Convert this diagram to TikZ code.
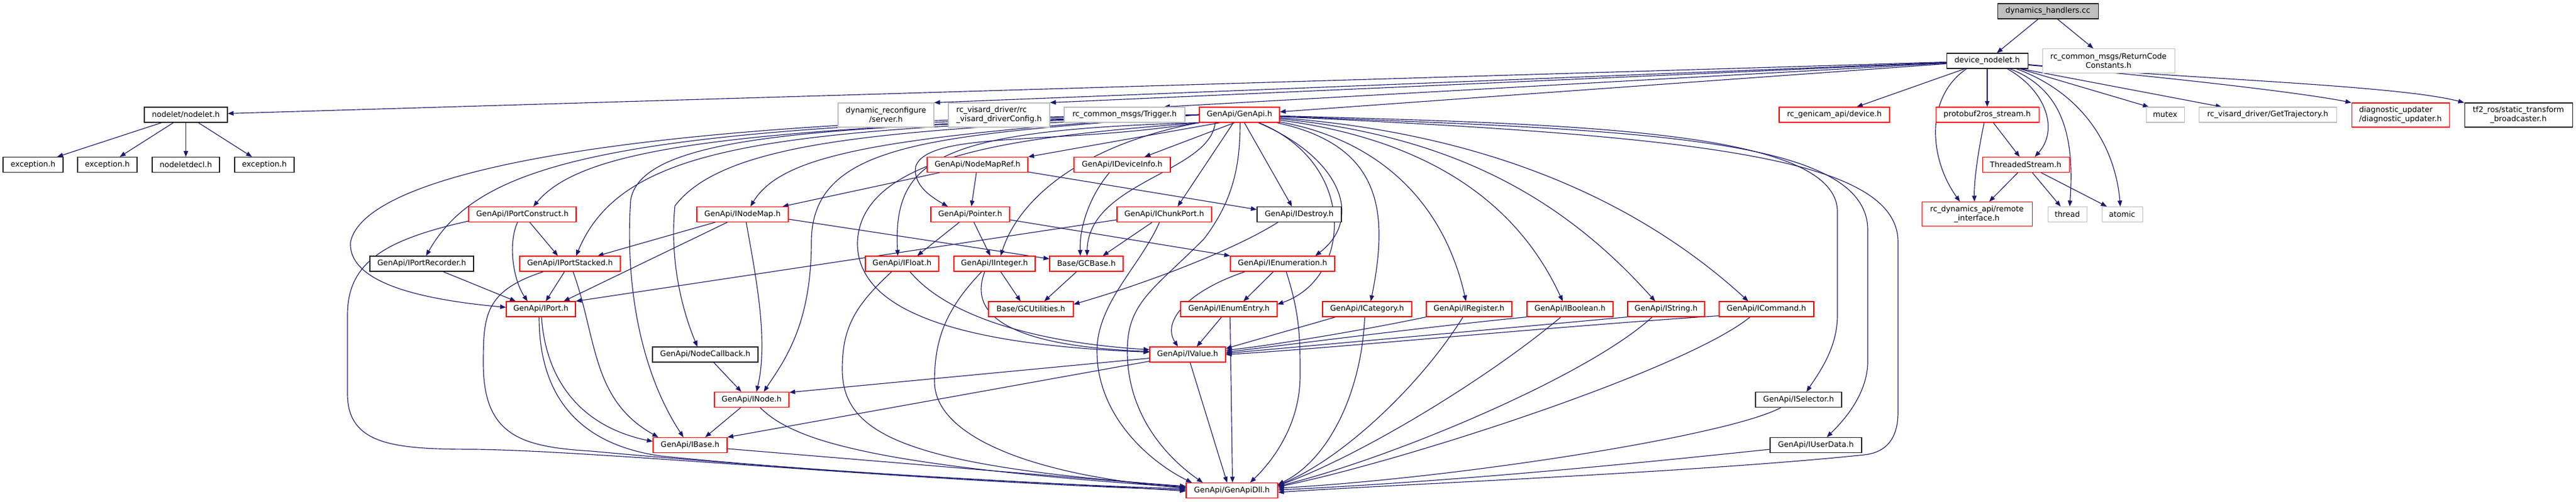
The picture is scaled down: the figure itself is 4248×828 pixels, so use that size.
\documentclass[tikz,border=0pt]{standalone}
\usepackage{fontspec}
\setmainfont{DejaVu Sans}
\usetikzlibrary{arrows.meta,calc}
\definecolor{edgec}{HTML}{191970}
\definecolor{redb}{HTML}{FF0000}
\definecolor{grayb}{HTML}{BFBFBF}
\definecolor{rootfill}{HTML}{BFBFBF}
\definecolor{blackb}{HTML}{202020}
\pgfdeclarelayer{bg}
\pgfsetlayers{bg,main}
\begin{document}
\begin{tikzpicture}[x=0.02cm,y=-0.02cm,
  box/.style={rectangle,draw,fill=white,line width=0.62pt,inner xsep=1pt,inner ysep=1pt,
    minimum height=0.5cm,align=center,font=\fontsize{7.2}{8.6}\selectfont},
  rb/.style={box,draw=redb},
  gb/.style={box,draw=grayb},
  bb/.style={box,draw=blackb},
  w/.style={minimum width=#1*0.02cm},
  h2/.style={minimum height=0.8cm},
  e/.style={draw=edgec,line width=0.65pt,-{Triangle[length=5.5pt,width=4.2pt]}}]
\begin{pgfonlayer}{bg}
\fill[white] (0,0) rectangle (4248,828);
\end{pgfonlayer}
\useasboundingbox (0,0) rectangle (4248,828);
% row 0-2
\node[bb,w=166,fill=rootfill] (dh) at (3377,18.5) {dynamics\_handlers.cc};
\node[bb,w=134] (dn) at (3277,100.5) {device\_nodelet.h};
\node[gb,w=218,h2] (rcret) at (3477,100.5) {rc\_common\_msgs/ReturnCode\\Constants.h};
\node[bb,w=137] (nodelet) at (306.5,189.5) {nodelet/nodelet.h};
\node[gb,w=158,h2] (dynrec) at (1461,190) {dynamic\_reconfigure\\/server.h};
\node[gb,w=167,h2,align=left] (rcvcfg) at (1647.5,190) {rc\_visard\_driver/rc\\\_visard\_driverConfig.h};
\node[gb,w=199] (trigger) at (1854.5,189.5) {rc\_common\_msgs/Trigger.h};
\node[rb,w=132] (genapi) at (2044,189.5) {GenApi/GenApi.h};
\node[rb,w=182] (rcdev) at (3025,189.5) {rc\_genicam\_api/device.h};
\node[rb,w=170] (proto) at (3277,189.5) {protobuf2ros\_stream.h};
\node[gb,w=63] (mutex) at (3570.5,189.5) {mutex};
\node[gb,w=227] (gettraj) at (3739.5,189.5) {rc\_visard\_driver/GetTrajectory.h};
\node[rb,w=161,h2,align=left] (diag) at (3958.5,190) {diagnostic\_updater\\/diagnostic\_updater.h};
\node[bb,w=178,h2] (tf2) at (4153,190) {tf2\_ros/static\_transform\\\_broadcaster.h};
% row 3
\node[bb,w=99] (exc1) at (54.5,272) {exception.h};
\node[bb,w=98] (exc2) at (177,272) {exception.h};
\node[bb,w=111] (decl) at (306.5,272) {nodeletdecl.h};
\node[bb,w=98] (exc3) at (436,272) {exception.h};
\node[rb,w=166] (nmref) at (1612,272) {GenApi/NodeMapRef.h};
\node[rb,w=159] (devinfo) at (1850.5,272) {GenApi/IDeviceInfo.h};
\node[rb,w=143] (tstream) at (3340.5,272) {ThreadedStream.h};
% row 4
\node[rb,w=177] (portc) at (861.5,354) {GenApi/IPortConstruct.h};
\node[rb,w=151] (inodemap) at (1224.5,354) {GenApi/INodeMap.h};
\node[rb,w=130] (pointer) at (1600,354) {GenApi/Pointer.h};
\node[rb,w=156] (chunk) at (1920,354) {GenApi/IChunkPort.h};
\node[bb,w=139] (destroy) at (2142.5,354) {GenApi/IDestroy.h};
\node[rb,w=182,h2] (remote) at (3260,353.5) {rc\_dynamics\_api/remote\\\_interface.h};
\node[gb,w=64] (thread) at (3409,354) {thread};
\node[gb,w=67] (atomic) at (3499.5,354) {atomic};
% row 5
\node[bb,w=171] (portrec) at (695.5,435.5) {GenApi/IPortRecorder.h};
\node[rb,w=166] (portst) at (940,435.5) {GenApi/IPortStacked.h};
\node[rb,w=121] (float) at (1487.5,435.5) {GenApi/IFloat.h};
\node[rb,w=134] (integer) at (1640,435.5) {GenApi/IInteger.h};
\node[rb,w=121] (gcbase) at (1791.5,435.5) {Base/GCBase.h};
\node[rb,w=172] (enum) at (2115,435.5) {GenApi/IEnumeration.h};
% row 6
\node[rb,w=114] (port) at (892,510.5) {GenApi/IPort.h};
\node[rb,w=140] (gcutil) at (1700,510.5) {Base/GCUtilities.h};
\node[rb,w=159] (enumentry) at (2026.5,510.5) {GenApi/IEnumEntry.h};
\node[rb,w=147] (category) at (2254.5,510.5) {GenApi/ICategory.h};
\node[rb,w=141] (register) at (2422.5,510.5) {GenApi/IRegister.h};
\node[rb,w=142] (boolean) at (2589,510.5) {GenApi/IBoolean.h};
\node[rb,w=127] (string) at (2747.5,510.5) {GenApi/IString.h};
\node[rb,w=156] (command) at (2913,510.5) {GenApi/ICommand.h};
% rows 7-10
\node[bb,w=174] (nodecb) at (1163,585.5) {GenApi/NodeCallback.h};
\node[rb,w=125] (value) at (1958.5,585.5) {GenApi/IValue.h};
\node[rb,w=123] (inode) at (1239.5,660) {GenApi/INode.h};
\node[bb,w=142] (selector) at (2966,660) {GenApi/ISelector.h};
\node[rb,w=122] (ibase) at (1138,735) {GenApi/IBase.h};
\node[bb,w=151] (userdata) at (2994.5,735) {GenApi/IUserData.h};
\node[rb,w=151] (dll) at (2031.5,810) {GenApi/GenApiDll.h};

\begin{pgfonlayer}{bg}
% top
\draw[e] (dh) -- (dn);
\draw[e] (dh) -- (rcret);
\draw[e] (dn) -- (nodelet);
\draw[e] (dn) -- (dynrec.north east);
\draw[e] (dn) -- (rcvcfg.north east);
\draw[e] (dn) -- ($(trigger.north)+(65,0)$);
\draw[e] (dn) -- (genapi);
\draw[e] (dn) -- (rcdev);
\draw[e] (dn) -- (proto);
\draw[e] ($(dn.south)+(-34,0)$) .. controls (3175,160) and (3180,260) .. ($(remote.north)+(-28,0)$);
\draw[e] ($(dn.south)+(33,0)$) .. controls (3375,150) and (3395,215) .. ($(tstream.north)+(15,0)$);
\draw[e] ($(dn.south)+(37,0)$) .. controls (3410,150) and (3420,240) .. ($(thread.north)+(4,0)$);
\draw[e] ($(dn.south)+(48,0)$) .. controls (3450,160) and (3490,260) .. ($(atomic.north)+(-3,0)$);
\draw[e] ($(dn.south east)+(-14,0)$) -- ($(mutex.north west)+(5,0)$);
\draw[e] ($(dn.south east)+(-12,0)$) -- ($(gettraj.north)+(-76,0)$);
\draw[e] ($(dn.east)+(0,7)$) .. controls (3500,120) and (3780,150) .. (diag.north west);
\draw[e] ($(dn.east)+(0,6)$) .. controls (3600,130) and (3950,140) .. (tf2.north west);
% nodelet
\foreach \t in {exc1,exc2,decl,exc3} \draw[e] (nodelet) -- (\t);
% proto / threaded stream
\draw[e] (proto) -- (tstream);
\draw[e] ($(proto.south)+(-5,0)$) .. controls (3262,250) and (3255,300) .. ($(remote.north)+(-4,0)$);
\draw[e] (tstream) -- (remote);
\draw[e] (tstream) -- (thread);
\draw[e] (tstream) -- (atomic);
% GenApi.h
\draw[e] ($(genapi.south west)+(35,0)$) -- (nmref.north east);
\draw[e] ($(genapi.south)+(-8,0)$) -- ($(devinfo.north)+(37,0)$);
\draw[e] ($(genapi.south)+(-10,0)$) -- ($(chunk.north)+(22,0)$);
\draw[e] ($(genapi.south)+(8,0)$) -- ($(destroy.north)+(-12,0)$);
\draw[e] (genapi.south west) .. controls (1750,240) and (1530,215) .. (1510,275) .. controls (1505,305) and (1535,325) .. ($(pointer.north)+(-37,0)$);
\draw[e] (genapi.south west) .. controls (1550,215) and (1472,260) .. ($(float.north)+(-7,0)$);
\draw[e] (genapi.south west) .. controls (1780,240) and (1680,330) .. ($(integer.north)+(10,0)$);
\draw[e] ($(genapi.south)+(-40,0)$) .. controls (1995,285) and (1795,300) .. ($(gcbase.north)+(1,0)$);
\draw[e] (genapi.south west) .. controls (1700,225) and (1420,250) .. (1414,400) .. controls (1412,520) and (1600,570) .. ($(value.west)+(0,-4)$);
\draw[e] (genapi.west) .. controls (1550,225) and (1338,230) .. (1338,400) .. controls (1338,540) and (1290,600) .. ($(inode.north)+(20,0)$);
\draw[e] (genapi.west) .. controls (1500,215) and (1200,225) .. (1113,340) .. controls (1105,420) and (1120,500) .. ($(nodecb.north)+(-13,0)$);
\draw[e] (genapi.west) .. controls (1400,210) and (1060,215) .. (1040,330) .. controls (1030,480) and (1060,620) .. ($(ibase.north)+(-11,0)$);
\draw[e] (genapi.west) .. controls (1450,225) and (1290,255) .. ($(inodemap.north)+(13,0)$);
\draw[e] (genapi.west) .. controls (1200,210) and (960,245) .. ($(portc.north)+(18,0)$);
\draw[e] (genapi.west) .. controls (1300,215) and (1030,230) .. ($(portst.north)+(10,0)$);
\draw[e] (genapi.west) .. controls (1000,205) and (790,270) .. ($(portrec.north)+(7,0)$);
\draw[e] (genapi.west) .. controls (1000,195) and (600,290) .. (578,400) .. controls (575,450) and (640,490) .. ($(port.west)+(0,-3)$);
\draw[e] (genapi) .. controls (2210,260) and (2250,360) .. ($(enum.north)+(54,0)$);
\draw[e] (genapi) .. controls (2240,270) and (2230,460) .. ($(enumentry.east)+(0,-8)$);
\draw[e] (genapi) .. controls (2280,240) and (2290,350) .. ($(category.north)+(6,0)$);
\draw[e] (genapi) .. controls (2270,230) and (2380,330) .. ($(register.north)+(-5,0)$);
\draw[e] (genapi) .. controls (2350,230) and (2500,330) .. ($(boolean.north)+(-12,0)$);
\draw[e] (genapi) .. controls (2400,225) and (2580,330) .. ($(string.north)+(-18,0)$);
\draw[e] (genapi) .. controls (2450,220) and (2700,330) .. ($(command.north)+(-30,0)$);
\draw[e] (genapi) .. controls (2600,205) and (3030,215) .. (3030,350) -- (3030,520) .. controls (3030,575) and (3000,615) .. ($(selector.north)+(13,0)$);
\draw[e] (genapi) .. controls (2700,215) and (3080,225) .. (3080,380) -- (3080,600) .. controls (3078,650) and (3045,690) .. ($(userdata.north)+(18,0)$);
\draw[e] (genapi) .. controls (2800,225) and (3130,260) .. (3130,400) -- (3130,680) .. controls (3130,735) and (3100,748) .. (3075,751) .. controls (2800,780) and (2300,800) .. ($(dll.east)+(0,3)$);
\draw[e] ($(genapi.south)+(1,0)$) .. controls (2045,270) and (2035,330) .. (1985,395) .. controls (1900,480) and (1859,500) .. (1859,580) .. controls (1859,690) and (1930,760) .. ($(dll.north)+(-48,0)$);
% NodeMapRef, IDeviceInfo, INodeMap
\draw[e] ($(nmref.south west)+(21,0)$) -- ($(inodemap.north east)+(-10,0)$);
\draw[e] (nmref) -- (pointer);
\draw[e] ($(nmref.east)+(0,12)$) -- ($(destroy.west)+(0,-8)$);
\draw[e] ($(devinfo.south)+(-21,0)$) .. controls (1800,320) and (1780,370) .. ($(gcbase.north)+(-10,0)$);
\draw[e] ($(inodemap.east)+(0,8)$) -- ($(gcbase.west)+(0,-8)$);
\draw[e] ($(inodemap.south west)+(31,0)$) -- ($(portst.north east)+(-38,0)$);
\draw[e] ($(inodemap.south west)+(51,0)$) -- ($(port.north east)+(-20,0)$);
\draw[e] ($(inodemap.south)+(6,0)$) .. controls (1245,450) and (1268,560) .. ($(inode.north)+(8,0)$);
% Pointer, IChunkPort, IDestroy
\draw[e] ($(pointer.south)+(-18,0)$) -- ($(float.north)+(25,0)$);
\draw[e] ($(pointer.south)+(6,0)$) -- ($(integer.north)+(-7,0)$);
\draw[e] ($(pointer.east)+(0,9)$) -- (enum.north west);
\draw[e] ($(chunk.west)+(0,9)$) -- (port.north east);
\draw[e] ($(chunk.south)+(-20,0)$) -- ($(gcbase.north)+(27,0)$);
\draw[e] ($(chunk.south)+(-8,0)$) .. controls (1880,440) and (1809,500) .. (1809,580) .. controls (1809,690) and (1900,765) .. ($(dll.north)+(-66,0)$);
\draw[e] ($(destroy.south west)+(35,0)$) .. controls (2040,410) and (1900,465) .. ($(gcutil.east)+(0,-8)$);
% IPortConstruct, IPortRecorder, IPortStacked, IPort
\draw[e] ($(portc.south)+(-8,0)$) .. controls (838,400) and (845,460) .. ($(port.north)+(-22,0)$);
\draw[e] ($(portc.south)+(12,0)$) -- ($(portst.north)+(-20,0)$);
\draw[e] ($(portc.south west)+(0,-2)$) .. controls (640,395) and (573,430) .. (573,520) -- (573,650) .. controls (573,735) and (650,742) .. (783,742) .. controls (1000,745) and (1500,795) .. ($(dll.west)+(0,-1)$);
\draw[e] ($(portrec.south)+(35,0)$) -- ($(port.north west)+(16,0)$);
\draw[e] ($(portst.south)+(-9,0)$) -- ($(port.north)+(8,0)$);
\draw[e] ($(portst.south)+(5,0)$) .. controls (985,560) and (975,660) .. ($(ibase.north west)+(9,0)$);
\draw[e] ($(portst.south west)+(40,0)$) .. controls (800,480) and (797,520) .. (797,600) .. controls (797,720) and (860,738) .. (975,745) .. controls (1300,775) and (1700,800) .. ($(dll.west)+(0,-3)$);
\draw[e] ($(port.south)+(1,0)$) .. controls (900,630) and (960,705) .. ($(ibase.west)+(0,-6)$);
\draw[e] ($(port.south)+(-3,0)$) .. controls (889,660) and (960,735) .. (1090,753) .. controls (1400,785) and (1800,800) .. ($(dll.west)+(0,1)$);
% NodeCallback, INode, IBase
\draw[e] ($(nodecb.south)+(14,0)$) -- ($(inode.north)+(-17,0)$);
\draw[e] ($(inode.south)+(-18,0)$) -- ($(ibase.north)+(25,0)$);
\draw[e] ($(inode.south)+(14,0)$) .. controls (1310,730) and (1450,770) .. ($(dll.west)+(0,-5)$);
\draw[e] ($(ibase.east)+(0,6)$) -- ($(dll.west)+(0,-6)$);
% IFloat, IInteger, GCBase
\draw[e] ($(float.south)+(13,0)$) .. controls (1560,520) and (1700,565) .. ($(value.west)+(0,-8)$);
\draw[e] ($(float.south)+(-17,0)$) .. controls (1410,505) and (1389,540) .. (1389,610) .. controls (1389,720) and (1500,770) .. ($(dll.west)+(0,-7)$);
\draw[e] ($(integer.south)+(10,0)$) -- ($(gcutil.north)+(-17,0)$);
\draw[e] ($(integer.south)+(-16,0)$) .. controls (1600,510) and (1640,570) .. ($(value.west)+(0,-5)$);
\draw[e] ($(integer.south)+(-21,0)$) .. controls (1560,510) and (1541,560) .. (1541,630) .. controls (1541,720) and (1700,785) .. ($(dll.west)+(0,-4)$);
\draw[e] ($(gcbase.south)+(-16,0)$) -- ($(gcutil.north)+(22,0)$);
% IEnumeration, IEnumEntry
\draw[e] ($(enum.south)+(-15,0)$) -- ($(enumentry.north)+(24,0)$);
\draw[e] ($(enum.south west)+(25,0)$) .. controls (1960,480) and (1915,530) .. ($(value.north)+(-16,0)$);
\draw[e] ($(enum.south)+(6,0)$) .. controls (2144,520) and (2144,560) .. (2144,620) .. controls (2144,700) and (2100,760) .. ($(dll.north)+(30,0)$);
\draw[e] ($(enumentry.south)+(-12,0)$) -- ($(value.north)+(15,0)$);
\draw[e] ($(enumentry.south)+(2,0)$) -- ($(dll.north)+(1,0)$);
% row 6 to IValue and GenApiDll
\draw[e] ($(category.south west)+(22,0)$) -- ($(value.east)+(0,-10)$);
\draw[e] ($(category.south)+(-4,0)$) .. controls (2245,650) and (2190,760) .. ($(dll.east)+(0,-10)$);
\draw[e] (register.south west) .. controls (2250,545) and (2100,570) .. ($(value.east)+(0,-7)$);
\draw[e] ($(register.south)+(-10,0)$) .. controls (2340,640) and (2210,760) .. ($(dll.east)+(0,-9)$);
\draw[e] (boolean.south west) .. controls (2350,540) and (2120,570) .. ($(value.east)+(0,-4)$);
\draw[e] ($(boolean.south)+(-15,0)$) .. controls (2460,620) and (2250,750) .. ($(dll.east)+(0,-8)$);
\draw[e] (string.south west) .. controls (2450,545) and (2150,572) .. ($(value.east)+(0,-2)$);
\draw[e] ($(string.south)+(-23,0)$) .. controls (2620,620) and (2300,755) .. ($(dll.east)+(0,-7)$);
\draw[e] ($(command.south west)+(0,-2)$) .. controls (2550,540) and (2200,575) .. ($(value.east)+(0,0)$);
\draw[e] ($(command.south)+(-27,0)$) .. controls (2780,610) and (2320,760) .. ($(dll.east)+(0,-6)$);
% IValue
\draw[e] ($(value.west)+(0,6)$) -- ($(inode.east)+(0,-12)$);
\draw[e] ($(value.south west)+(0,-2)$) -- ($(ibase.east)+(0,-13)$);
\draw[e] ($(value.south)+(4,0)$) -- ($(dll.north)+(-8,0)$);
% ISelector, IUserData
\draw[e] ($(selector.south)+(-29,0)$) .. controls (2850,720) and (2400,790) .. ($(dll.east)+(0,-4)$);
\draw[e] ($(userdata.west)+(0,7)$) .. controls (2700,765) and (2400,795) .. ($(dll.east)+(0,-1)$);
\end{pgfonlayer}
\end{tikzpicture}
\end{document}
